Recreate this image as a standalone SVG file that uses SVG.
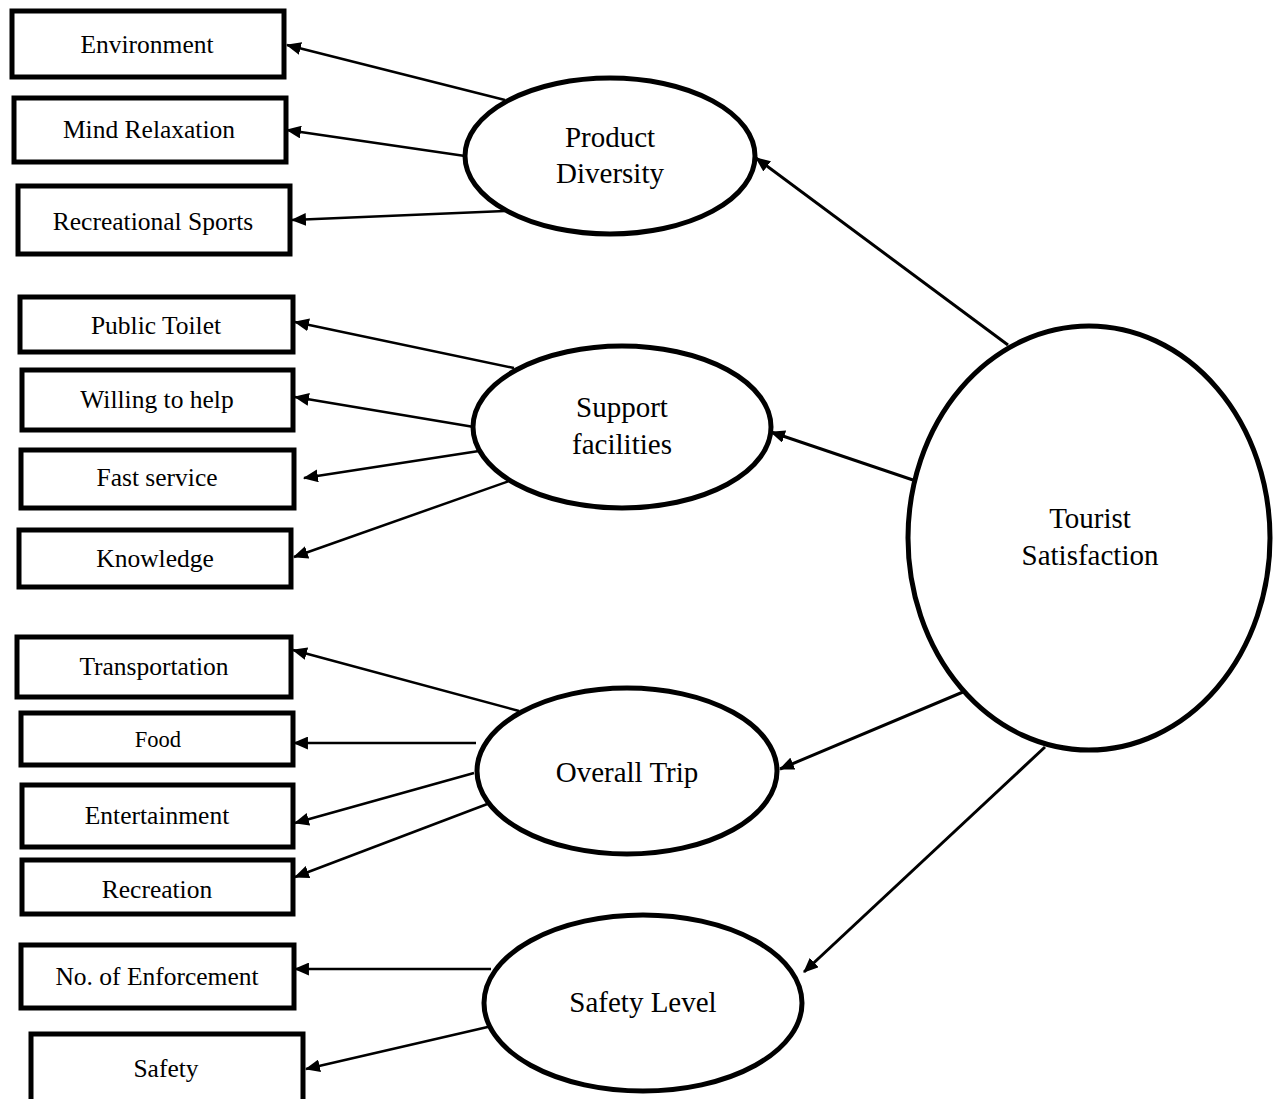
<svg xmlns="http://www.w3.org/2000/svg" width="1273" height="1099" viewBox="0 0 1273 1099">
<style>
.box{fill:#fff;stroke:#000;stroke-width:5}
.ell{fill:#fff;stroke:#000;stroke-width:5}
.t{font-family:"Liberation Serif","Times New Roman",serif;font-size:25.5px;fill:#000;text-anchor:middle}
.te{font-family:"Liberation Serif","Times New Roman",serif;font-size:29px;fill:#000;text-anchor:middle}
.c line{stroke:#000;stroke-width:2.5;fill:none;marker-end:url(#ah)}
.c line.m{stroke-width:3}
</style>
<defs>
<marker id="ah" viewBox="0 0 14 12" refX="13" refY="6" markerWidth="15" markerHeight="13" markerUnits="userSpaceOnUse" orient="auto">
<path d="M0,0 L14,6 L0,12 z" fill="#000"/>
</marker>
</defs>
<rect width="1273" height="1099" fill="#fff"/>

<g id="n-environment"><rect class="box" x="12" y="11" width="272" height="66"/><text class="t" x="147" y="53">Environment</text></g>
<g id="n-mind"><rect class="box" x="14" y="98" width="272" height="64"/><text class="t" x="149" y="138">Mind Relaxation</text></g>
<g id="n-recsports"><rect class="box" x="18" y="186" width="272" height="68"/><text class="t" x="153" y="230">Recreational Sports</text></g>

<g id="n-toilet"><rect class="box" x="20" y="297" width="273" height="55"/><text class="t" x="156" y="334">Public Toilet</text></g>
<g id="n-willing"><rect class="box" x="22" y="370" width="271" height="60"/><text class="t" x="157" y="408">Willing to help</text></g>
<g id="n-fast"><rect class="box" x="21" y="450" width="273" height="58"/><text class="t" x="157" y="486">Fast service</text></g>
<g id="n-knowledge"><rect class="box" x="19" y="530" width="272" height="57"/><text class="t" x="155" y="567">Knowledge</text></g>

<g id="n-transport"><rect class="box" x="17" y="637" width="274" height="60"/><text class="t" x="154" y="675">Transportation</text></g>
<g id="n-food"><rect class="box" x="21" y="713" width="272" height="52"/><text class="t" x="158" y="747" style="font-size:22.5px">Food</text></g>
<g id="n-entertain"><rect class="box" x="22" y="785" width="271" height="62"/><text class="t" x="157" y="824">Entertainment</text></g>
<g id="n-recreation"><rect class="box" x="22" y="860" width="271" height="54"/><text class="t" x="157" y="898">Recreation</text></g>

<g id="n-enforce"><rect class="box" x="21" y="945" width="273" height="63"/><text class="t" x="157" y="985">No. of Enforcement</text></g>
<g id="n-safety"><rect class="box" x="31" y="1034" width="272" height="75"/><text class="t" x="166" y="1077">Safety</text></g>

<g class="c" id="connectors">
<line x1="505" y1="100" x2="287" y2="45"/>
<line x1="465" y1="156" x2="287" y2="130"/>
<line x1="505" y1="211" x2="292" y2="220"/>
<line x1="514" y1="368" x2="295" y2="322"/>
<line x1="474" y1="427" x2="295" y2="397"/>
<line x1="479" y1="451" x2="304" y2="478"/>
<line x1="512" y1="480" x2="294" y2="557"/>
<line x1="519" y1="711" x2="293" y2="650"/>
<line x1="476" y1="743" x2="294" y2="743"/>
<line x1="474" y1="773" x2="295" y2="823"/>
<line x1="490" y1="803" x2="295" y2="877"/>
<line x1="491" y1="969" x2="295" y2="969"/>
<line x1="492" y1="1026" x2="306" y2="1069"/>
<line class="m" x1="1008" y1="345" x2="756" y2="158"/>
<line class="m" x1="913" y1="480" x2="771" y2="432"/>
<line class="m" x1="963" y1="692" x2="780" y2="769"/>
<line class="m" x1="1045" y1="747" x2="804" y2="972"/>
</g>

<g id="n-product"><ellipse class="ell" cx="610" cy="156" rx="145" ry="78"/><text class="te" x="610" y="147">Product</text><text class="te" x="610" y="183">Diversity</text></g>
<g id="n-support"><ellipse class="ell" cx="622" cy="427" rx="149" ry="81"/><text class="te" x="622" y="417">Support</text><text class="te" x="622" y="454">facilities</text></g>
<g id="n-overall"><ellipse class="ell" cx="627" cy="771" rx="150" ry="83"/><text class="te" x="627" y="782">Overall Trip</text></g>
<g id="n-safetylevel"><ellipse class="ell" cx="643" cy="1003" rx="159" ry="88"/><text class="te" x="643" y="1012">Safety Level</text></g>
<g id="n-tourist"><ellipse class="ell" cx="1089" cy="538" rx="181" ry="212"/><text class="te" x="1090" y="528">Tourist</text><text class="te" x="1090" y="565">Satisfaction</text></g>
</svg>
